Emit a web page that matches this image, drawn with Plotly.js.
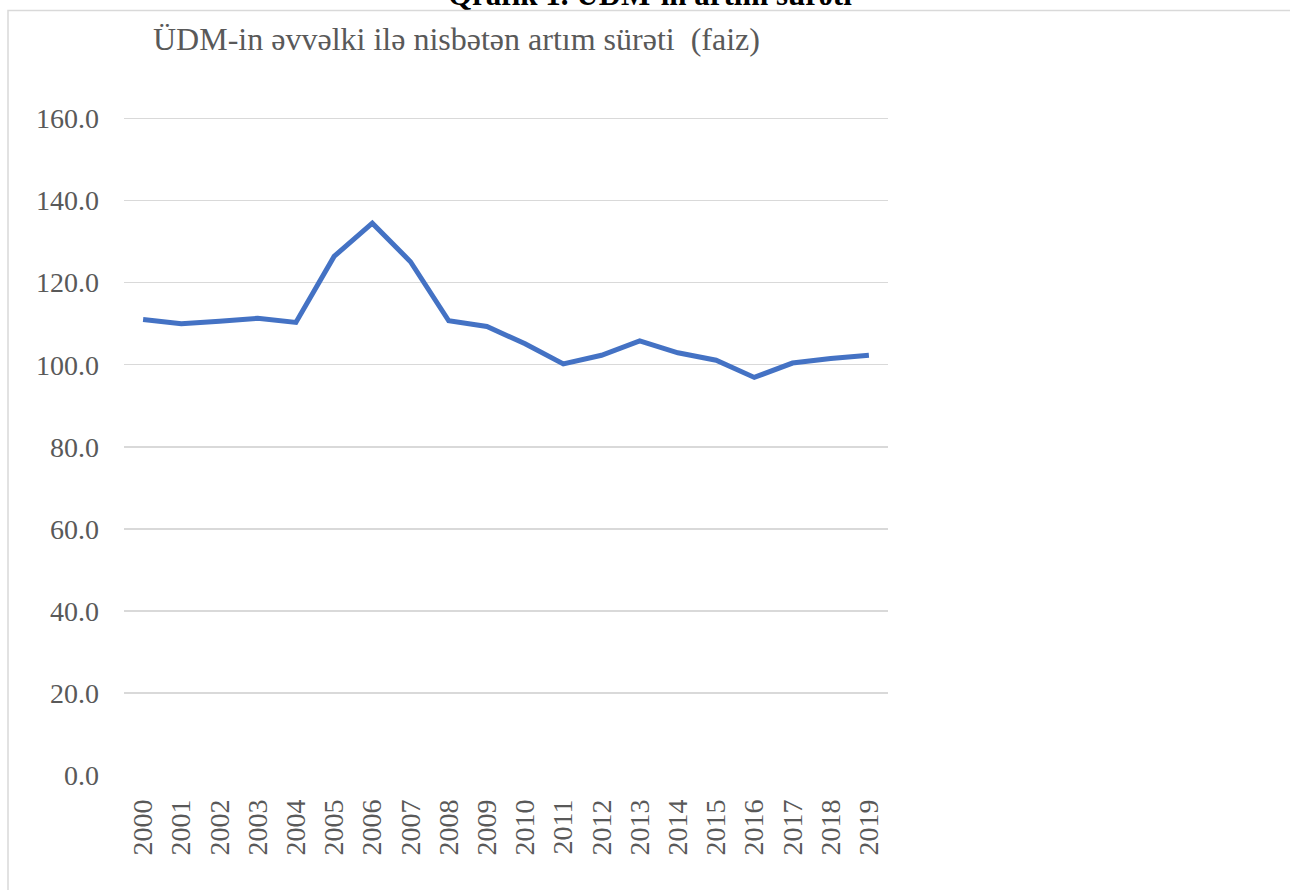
<!DOCTYPE html>
<html>
<head>
<meta charset="utf-8">
<script src="https://cdn.plot.ly/plotly-3.0.1.min.js"></script>
<style>
html,body{margin:0;padding:0;background:#fff;}
#chart{width:1290px;height:890px;}
</style>
</head>
<body>
<div id="chart"></div>
<script>
const years = ["2000","2001","2002","2003","2004","2005","2006","2007","2008","2009",
               "2010","2011","2012","2013","2014","2015","2016","2017","2018","2019"];
const growth = [111.0,110.0,110.6,111.3,110.3,126.4,134.5,125.1,110.7,109.3,
                105.1,100.2,102.3,105.8,102.9,101.1,96.9,100.4,101.5,102.3];
const yTicks = [0,20,40,60,80,100,120,140,160];
const mainTitle = "Qrafik 1. ÜDM-in artım sürəti";
const subTitle = "ÜDM-in əvvəlki ilə nisbətən artım sürəti  (faiz)";

const serif = "Liberation Serif, DejaVu Serif, Times New Roman, serif";
const plotTop = 97.5, plotBottom = 775, plotLeft = 124, plotRight = 888;
const ph = plotBottom - plotTop, pw = plotRight - plotLeft;

const trace = {
  x: years, y: growth, type: "scatter", mode: "lines",
  line: {color: "#4472C4", width: 5, shape: "linear"},
  hoverinfo: "skip"
};

const layout = {
  width: 1290, height: 890,
  margin: {l: plotLeft, r: 1290 - plotRight, t: plotTop, b: 890 - plotBottom, pad: 0},
  paper_bgcolor: "#ffffff", plot_bgcolor: "#ffffff",
  showlegend: false,
  font: {family: serif, color: "#595959", size: 28},
  xaxis: {
    type: "category", range: [-0.5, 19.5],
    tickangle: -90, ticks: "", showgrid: false, zeroline: false,
    showline: false, ticklabelstandoff: 18,
    tickfont: {family: serif, size: 28, color: "#595959"},
    fixedrange: true
  },
  yaxis: {
    range: [0, 165], tickvals: yTicks,
    ticktext: yTicks.map(v => v.toFixed(1)),
    showgrid: true, gridcolor: "#d9d9d9", gridwidth: 1.5,
    zeroline: false, showline: false, ticks: "",
    ticklabelstandoff: 24,
    tickfont: {family: serif, size: 28, color: "#595959"},
    fixedrange: true
  },
  annotations: [
    {text: subTitle, xref: "paper", yref: "paper",
     x: (151 - plotLeft) / pw, xanchor: "left",
     y: (plotBottom - 38) / ph, yanchor: "middle",
     showarrow: false, font: {family: serif, size: 32, color: "#595959"}},
    {text: "<b>" + mainTitle + "</b>", xref: "paper", yref: "paper",
     x: (650 - plotLeft) / pw, xanchor: "center",
     y: (plotBottom + 6) / ph, yanchor: "middle",
     showarrow: false, font: {family: serif, size: 31, color: "#000000"}}
  ],
  shapes: [
    {type: "rect", xref: "paper", yref: "paper", layer: "below",
     x0: (8 - plotLeft) / pw, x1: (1300 - plotLeft) / pw,
     y0: (plotBottom - 900) / ph, y1: (plotBottom - 10) / ph,
     line: {color: "#d9d9d9", width: 1.5}, fillcolor: "rgba(0,0,0,0)"}
  ]
};

Plotly.newPlot("chart", [trace], layout, {displayModeBar: false, staticPlot: true});
</script>
</body>
</html>
